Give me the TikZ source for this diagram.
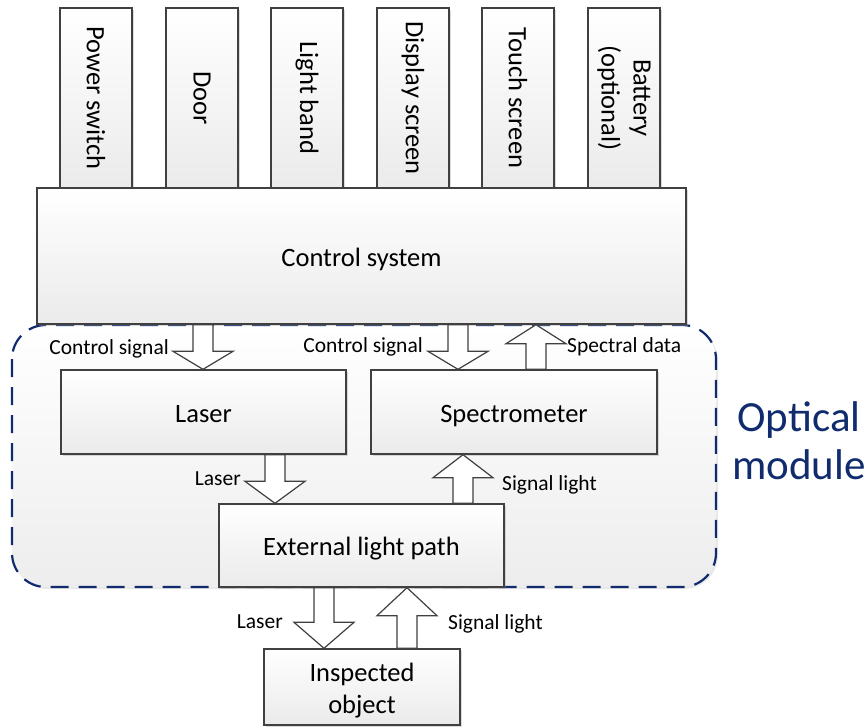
\documentclass[tikz,border=0pt]{standalone}
\usepackage{fontspec}
\setmainfont{Carlito}
\usetikzlibrary{calc,shadows}
\definecolor{navy}{HTML}{102C6E}
\definecolor{edge}{HTML}{404040}
\newcommand\lowtxt[1]{\raisebox{-4pt}[\height][\depth]{\begin{tabular}{@{}c@{}}#1\end{tabular}}}
\tikzset{
  x=1pt,y=-1pt,
  boxstyle/.style={draw=edge,line width=1.4pt,top color=white,bottom color=black!8,
    drop shadow={shadow xshift=2pt,shadow yshift=-2pt,fill=black!40,opacity=0.35},
    inner sep=0pt,align=center,font=\fontsize{26.5}{32}\selectfont},
  arrowstyle/.style={draw=edge,line width=1.2pt,fill=white,line join=miter},
  lbl/.style={font=\fontsize{21.5}{24}\selectfont,inner sep=0pt},
  region/.style={draw=navy,line width=2.2pt,dash pattern=on 18pt off 10pt,rounded corners=34pt,
    top color=white,bottom color=black!7,
    drop shadow={shadow xshift=2pt,shadow yshift=-2pt,fill=black!30,opacity=0.3}}
}
% down block arrow: #1 x-reference, #2 tail anchor, #3 tip anchor, #4 head length
\newcommand\BlkDown[4]{%
  \path[arrowstyle] let \p1=(#1 |- #2), \p2=(#1 |- #3) in
    (\x1-10pt,\y1) -- (\x1-10pt,\y2+#4) -- (\x1-30pt,\y2+#4) -- (\x1,\y2)
    -- (\x1+30pt,\y2+#4) -- (\x1+10pt,\y2+#4) -- (\x1+10pt,\y1) -- cycle;}
\newcommand\BlkUp[4]{%
  \path[arrowstyle] let \p1=(#1 |- #2), \p2=(#1 |- #3) in
    (\x1-10pt,\y1) -- (\x1-10pt,\y2-#4) -- (\x1-30pt,\y2-#4) -- (\x1,\y2)
    -- (\x1+30pt,\y2-#4) -- (\x1+10pt,\y2-#4) -- (\x1+10pt,\y1) -- cycle;}
\begin{document}
\begin{tikzpicture}
\useasboundingbox (0,0) rectangle (867,726);
% optical module region
\path[region] (12,325) rectangle (716,587);
\node[text=navy,font=\fontsize{43}{48}\selectfont,align=center,anchor=west,inner sep=0pt] (optlbl) at (732,441) {Optical\\module};
% top boxes
\foreach \nm/\xx/\tx in {pw/60/Power switch,door/166/Door,lb/271/Light band,ds/377/Display screen,ts/482/Touch screen,bat/588/{Battery\\(optional)}}{
  \node[boxstyle,minimum width=180pt,minimum height=72pt,rotate=-90] (\nm) at (\xx+36,98) {\tx};
}
% control system
\node[boxstyle,minimum width=649pt,minimum height=136pt] (ctrl) at (361.5,256) {\lowtxt{Control system}};
% inner boxes
\node[boxstyle,minimum width=285pt,minimum height=84pt] (laser) at (203.5,412) {\lowtxt{Laser}};
\node[boxstyle,minimum width=286pt,minimum height=84pt] (spec) at (514,412) {\lowtxt{Spectrometer}};
\node[boxstyle,minimum width=285pt,minimum height=83pt] (ext) at (361.5,545.5) {\lowtxt{External light path}};
\node[boxstyle,minimum width=196pt,minimum height=76pt] (obj) at (362,687) {\lowtxt{Inspected\\object}};
% arrow x references
\coordinate (c1) at (203,0);
\coordinate (c2) at (458,0);
\coordinate (c3) at (536,0);
\coordinate (c4) at (275,0);
\coordinate (c5) at (463,0);
\coordinate (c6) at (324,0);
\coordinate (c7) at (407,0);
\BlkDown{c1}{ctrl.south}{laser.north}{18pt}
\BlkDown{c2}{ctrl.south}{spec.north}{18pt}
\BlkUp{c3}{spec.north}{ctrl.south}{19pt}
\BlkDown{c4}{laser.south}{ext.north}{22pt}
\BlkUp{c5}{ext.north}{spec.south}{23pt}
\BlkDown{c6}{ext.south}{obj.north}{26pt}
\BlkUp{c7}{obj.north}{ext.south}{28pt}
% labels
\node[lbl,anchor=east] (l1) at (169,349) {Control signal};
\node[lbl,anchor=east] (l2) at (423,347) {Control signal};
\node[lbl,anchor=west] (l3) at (567,347) {Spectral data};
\node[lbl,anchor=east] (l4) at (241,479) {Laser};
\node[lbl,anchor=west] (l5) at (502,485) {Signal light};
\node[lbl,anchor=east] (l6) at (283,622) {Laser};
\node[lbl,anchor=west] (l7) at (448,624) {Signal light};
\end{tikzpicture}
\end{document}
